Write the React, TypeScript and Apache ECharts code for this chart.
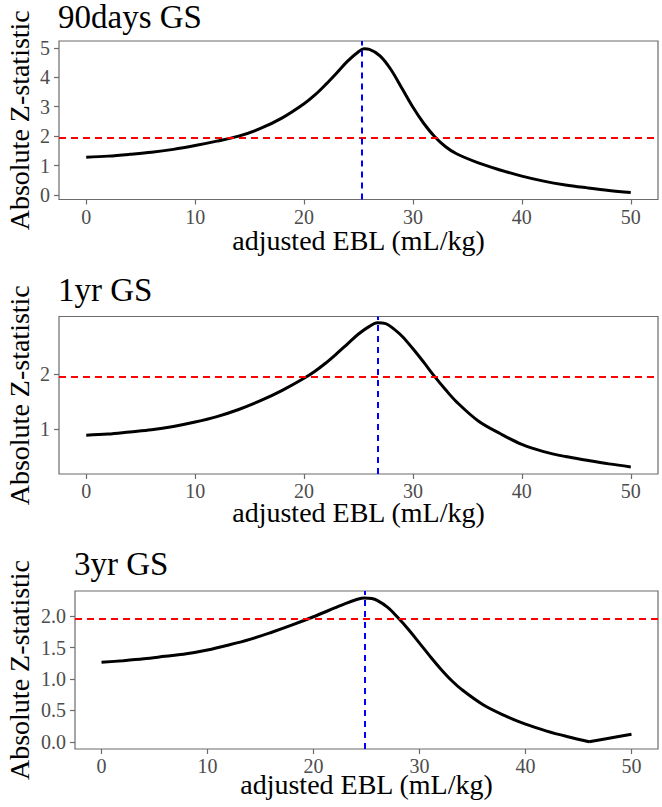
import React, { useEffect, useRef } from "react";
import * as echarts from "echarts";

const panelTitles = ["90days GS", "1yr GS", "3yr GS"];
const xAxisTitle = "adjusted EBL (mL/kg)";
const yAxisTitle = "Absolute Z-statistic";
const xTickValues = [0, 10, 20, 30, 40, 50];
const yTicks90 = [0, 1, 2, 3, 4, 5];
const yTicks1yr = [1, 2];
const yTicks3yr = [0, 0.5, 1, 1.5, 2];
const threshold = 1.96;

const ebl90 = [0, 2, 4, 6, 8, 10, 12, 14, 16, 18, 20, 21, 22, 23, 24, 25, 25.5, 26, 27, 28, 29, 30, 31, 32, 33, 34, 36, 38, 40, 42, 44, 46, 48, 50];
const z90 = [1.28, 1.32, 1.38, 1.45, 1.55, 1.68, 1.83, 2.0, 2.26, 2.62, 3.1, 3.4, 3.76, 4.15, 4.55, 4.87, 4.97, 4.95, 4.72, 4.25, 3.62, 2.98, 2.43, 1.98, 1.64, 1.4, 1.09, 0.85, 0.64, 0.47, 0.34, 0.24, 0.15, 0.08];
const peak90 = 25.3;

const ebl1yr = [0, 2, 4, 6, 8, 10, 12, 14, 16, 18, 20, 21, 22, 23, 24, 25, 26, 26.75, 27.5, 28, 29, 30, 31, 32, 33, 34, 36, 38, 40, 42, 44, 46, 48, 50];
const z1yr = [0.89, 0.91, 0.95, 0.99, 1.05, 1.13, 1.23, 1.36, 1.52, 1.71, 1.93, 2.06, 2.21, 2.38, 2.56, 2.74, 2.88, 2.945, 2.93, 2.87, 2.7, 2.47, 2.22, 1.96, 1.72, 1.5, 1.15, 0.92, 0.72, 0.59, 0.5, 0.43, 0.365, 0.31];
const peak1yr = 26.75;

const ebl3yr = [0, 2, 4, 6, 8, 10, 12, 14, 16, 18, 20, 22, 23, 24, 24.8, 25.5, 26, 27, 28, 29, 30, 31, 32, 33, 34, 36, 38, 40, 42, 44, 46, 48, 50];
const z3yr = [1.265, 1.29, 1.32, 1.36, 1.4, 1.46, 1.54, 1.63, 1.74, 1.86, 1.99, 2.13, 2.2, 2.26, 2.29, 2.28, 2.25, 2.14, 1.97, 1.78, 1.57, 1.36, 1.16, 0.98, 0.83, 0.59, 0.42, 0.28, 0.17, 0.08, 0.0, 0.06, 0.12];
const peak3yr = 24.8;
const dip3yr = 46;

const FONT = "'Liberation Serif', 'Times New Roman', Times, serif";
const BORDER = "#6b6b6b";
const TICKLABEL = "#4d4d4d";
const RIGHT = 658;

const panels = [
  { title: panelTitles[0], xs: ebl90, zs: z90, peak: peak90, split: null as number | null, yTicks: yTicks90, yMin: -0.155, yMax: 5.235, left: 59, top: 41, height: 158.5, titleTop: 0, xNameY: 240.5, fmt: (v: number) => String(v) },
  { title: panelTitles[1], xs: ebl1yr, zs: z1yr, peak: peak1yr, split: null as number | null, yTicks: yTicks1yr, yMin: 0.18, yMax: 3.06, left: 59, top: 316.5, height: 157.5, titleTop: 273, xNameY: 512, fmt: (v: number) => String(v) },
  { title: panelTitles[2], xs: ebl3yr, zs: z3yr, peak: peak3yr, split: dip3yr as number | null, yTicks: yTicks3yr, yMin: -0.115, yMax: 2.4, left: 75, top: 591, height: 158, titleTop: 547, xNameY: 784.5, fmt: (v: number) => v.toFixed(1) },
];

export default function App() {
  const ref = useRef<HTMLDivElement>(null);
  useEffect(() => {
    if (!ref.current) return;
    const chart = echarts.init(ref.current, null, { renderer: "svg" });
    const series: any[] = [];
    panels.forEach((p, i) => {
      const pts = p.xs.map((x, k) => [x, p.zs[k]]);
      const parts = p.split == null ? [pts] : [pts.filter((d) => d[0] <= p.split!), pts.filter((d) => d[0] >= p.split!)];
      parts.forEach((part, j) => {
        series.push({
          type: "line",
          xAxisIndex: i,
          yAxisIndex: i,
          data: part,
          showSymbol: false,
          smooth: 0.35,
          lineStyle: { color: "#000", width: 3 },
          z: 2,
          markLine: j === 0 ? {
            silent: true,
            symbol: "none",
            label: { show: false },
            emphasis: { disabled: true },
            z: 3,
            data: [
              { yAxis: threshold, lineStyle: { color: "#ff0000", type: [7, 5], width: 2 } },
              { xAxis: p.peak, lineStyle: { color: "#0000ff", type: [6, 5], width: 2 } },
            ],
          } : undefined,
        });
      });
    });
    const graphics: any[] = [];
    panels.forEach((p) => {
      graphics.push({
        type: "text",
        x: (p.left + RIGHT) / 2,
        y: p.xNameY,
        silent: true,
        style: { text: xAxisTitle, fontFamily: FONT, fontSize: 28, fill: "#000", align: "center", verticalAlign: "middle" },
      });
      graphics.push({
        type: "text",
        x: 19,
        y: p.top + p.height / 2,
        rotation: Math.PI / 2,
        silent: true,
        style: { text: yAxisTitle, fontFamily: FONT, fontSize: 28, fill: "#000", align: "center", verticalAlign: "middle" },
      });
    });
    const option: any = {
      animation: false,
      backgroundColor: "#ffffff",
      textStyle: { fontFamily: FONT },
      title: panels.map((p) => ({
        text: p.title,
        left: p.left - 1,
        top: p.titleTop,
        padding: 0,
        textStyle: { fontFamily: FONT, fontSize: 33, fontWeight: "normal", color: "#000" },
      })),
      grid: panels.map((p) => ({
        left: p.left,
        top: p.top,
        width: RIGHT - p.left,
        height: p.height,
        containLabel: false,
        outerBoundsMode: "none",
        show: true,
        borderColor: BORDER,
        borderWidth: 1.2,
        backgroundColor: "transparent",
      })),
      xAxis: panels.map((p, i) => ({
        type: "value",
        gridIndex: i,
        min: -2.5,
        max: 52.5,
        axisLine: { show: false, onZero: false },
        splitLine: { show: false },
        axisTick: { show: true, length: 5, lineStyle: { color: BORDER, width: 1.2 }, customValues: xTickValues },
        axisLabel: { show: true, margin: 7, fontFamily: FONT, fontSize: 20, color: TICKLABEL, customValues: xTickValues },
      })),
      yAxis: panels.map((p, i) => ({
        type: "value",
        gridIndex: i,
        min: p.yMin,
        max: p.yMax,
        axisLine: { show: false, onZero: false },
        splitLine: { show: false },
        axisTick: { show: true, length: 5, lineStyle: { color: BORDER, width: 1.2 }, customValues: p.yTicks },
        axisLabel: { show: true, margin: 9, fontFamily: FONT, fontSize: 20, color: TICKLABEL, customValues: p.yTicks, formatter: p.fmt },
      })),
      graphic: graphics,
      series,
    };
    chart.setOption(option);
    return () => chart.dispose();
  }, []);
  return <div ref={ref} style={{ position: "absolute", left: 0, top: 0, width: 662, height: 807 }} />;
}
